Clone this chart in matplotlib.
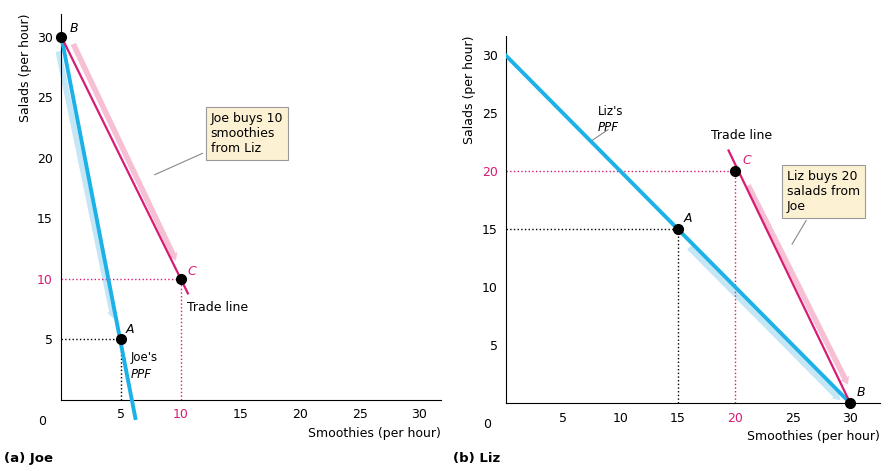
import matplotlib.pyplot as plt

plt.rcParams['font.family'] = ['DejaVu Sans']
BLUE = '#1cb2e8'
MAG = '#d81b73'
LBLUE = '#c4e6f5'
LPINK = '#f7bfd3'

ticks = [5, 10, 15, 20, 25, 30]

# Joe
joe_ppf_x = [0, 6.2]
joe_ppf_y = [30, -1.5]
joe_A = (5, 5)
joe_B = (0, 30)
joe_C = (10, 10)
joe_trade_end = (10.6, 8.8)

# Liz
liz_ppf_x = [0, 30]
liz_ppf_y = [30, 0]
liz_A = (15, 15)
liz_B = (30, 0)
liz_C = (20, 20)
liz_trade_start = (19.4, 21.8)

fig = plt.figure(figsize=(8.89, 4.71), dpi=100)
ax1 = fig.add_axes([0.069, 0.151, 0.427, 0.82])
ax2 = fig.add_axes([0.569, 0.144, 0.421, 0.78])

for ax, xmax, ymax in [(ax1, 31.8, 31.9), (ax2, 32.6, 31.7)]:
    ax.set_xlim(0, xmax)
    ax.set_ylim(0, ymax)
    ax.spines['top'].set_visible(False)
    ax.spines['right'].set_visible(False)
    ax.set_xticks(ticks)
    ax.set_yticks(ticks)
    ax.tick_params(length=0, labelsize=9, pad=6)
    ax.set_xlabel('Smoothies (per hour)', fontsize=9, loc='right', labelpad=4)
    ax.set_ylabel('Salads (per hour)', fontsize=9, loc='top', labelpad=4)
    ax.text(-0.04, -0.04, '0', transform=ax.transAxes, fontsize=9, ha='right', va='top')

arrow = dict(arrowstyle='simple,head_width=0.7,tail_width=0.4', lw=0)

# ---- panel a
ax1.annotate('', xy=(4.4, 6.5), xytext=(-0.3, 29), arrowprops=dict(color=LBLUE, **arrow), zorder=1)
ax1.annotate('', xy=(9.7, 11.3), xytext=(0.9, 29.6), arrowprops=dict(color=LPINK, **arrow), zorder=1)
ax1.plot(joe_ppf_x, joe_ppf_y, color=BLUE, lw=2.8, clip_on=False, zorder=3)
ax1.plot([joe_B[0], joe_trade_end[0]], [joe_B[1], joe_trade_end[1]], color=MAG, lw=1.6, zorder=3)
ax1.plot([0, joe_A[0]], [joe_A[1]] * 2, 'k:', lw=1)
ax1.plot([joe_A[0]] * 2, [0, joe_A[1]], 'k:', lw=1)
ax1.plot([0, joe_C[0]], [joe_C[1]] * 2, ':', color=MAG, lw=1)
ax1.plot([joe_C[0]] * 2, [0, joe_C[1]], ':', color=MAG, lw=1)
for p in [joe_A, joe_B, joe_C]:
    ax1.plot(*p, 'o', color='black', ms=7, clip_on=False, zorder=5)
ax1.text(0.7, 30.4, 'B', fontsize=9, style='italic')
ax1.text(5.4, 5.5, 'A', fontsize=9, style='italic')
ax1.text(10.6, 10.3, 'C', fontsize=9, style='italic', color=MAG)
ax1.text(5.8, 4.0, "Joe's", fontsize=8.5, va='top')
ax1.text(5.8, 2.6, "PPF", fontsize=8.5, va='top', style='italic')
ax1.text(10.5, 7.3, 'Trade line', fontsize=9)
ax1.annotate('Joe buys 10\nsmoothies\nfrom Liz', xy=(7.6, 18.5), xytext=(12.5, 22), fontsize=9, va='center',
             bbox=dict(boxstyle='square,pad=0.4', fc='#fdf1d4', ec='#999999', lw=0.8),
             arrowprops=dict(arrowstyle='-', color='#888888', lw=0.8))
for lbl in ax1.get_yticklabels() + ax1.get_xticklabels():
    if lbl.get_text() == '10':
        lbl.set_color(MAG)
fig.text(0.005, 0.02, '(a) Joe', fontsize=9.5, weight='bold')

# ---- panel b
ax2.annotate('', xy=(29.3, 0.1), xytext=(15.8, 13.6), arrowprops=dict(color=LBLUE, **arrow), zorder=1)
ax2.annotate('', xy=(29.9, 1.4), xytext=(21.0, 19.0), arrowprops=dict(color=LPINK, **arrow), zorder=1)
ax2.plot(liz_ppf_x, liz_ppf_y, color=BLUE, lw=2.8, zorder=3)
ax2.plot([liz_trade_start[0], liz_B[0]], [liz_trade_start[1], liz_B[1]], color=MAG, lw=1.6, zorder=3)
ax2.plot([0, liz_A[0]], [liz_A[1]] * 2, 'k:', lw=1)
ax2.plot([liz_A[0]] * 2, [0, liz_A[1]], 'k:', lw=1)
ax2.plot([0, liz_C[0]], [liz_C[1]] * 2, ':', color=MAG, lw=1)
ax2.plot([liz_C[0]] * 2, [0, liz_C[1]], ':', color=MAG, lw=1)
for p in [liz_A, liz_B, liz_C]:
    ax2.plot(*p, 'o', color='black', ms=7, clip_on=False, zorder=5)
ax2.text(15.5, 15.6, 'A', fontsize=9, style='italic')
ax2.text(30.6, 0.6, 'B', fontsize=9, style='italic')
ax2.text(20.6, 20.6, 'C', fontsize=9, style='italic', color=MAG)
ax2.text(8.0, 24.9, "Liz's", fontsize=8.5)
ax2.text(8.0, 23.5, "PPF", fontsize=8.5, style='italic')
ax2.plot([7.4, 8.9], [22.6, 23.6], color='#888888', lw=0.8)
ax2.text(17.9, 22.8, 'Trade line', fontsize=9)
ax2.annotate('Liz buys 20\nsalads from\nJoe', xy=(24.8, 13.5), xytext=(24.5, 18.3), fontsize=9, va='center',
             bbox=dict(boxstyle='square,pad=0.4', fc='#fdf1d4', ec='#999999', lw=0.8),
             arrowprops=dict(arrowstyle='-', color='#888888', lw=0.8))
for lbl in ax2.get_yticklabels() + ax2.get_xticklabels():
    if lbl.get_text() == '20':
        lbl.set_color(MAG)
fig.text(0.51, 0.02, '(b) Liz', fontsize=9.5, weight='bold')

fig.savefig('out.png', dpi=100)
